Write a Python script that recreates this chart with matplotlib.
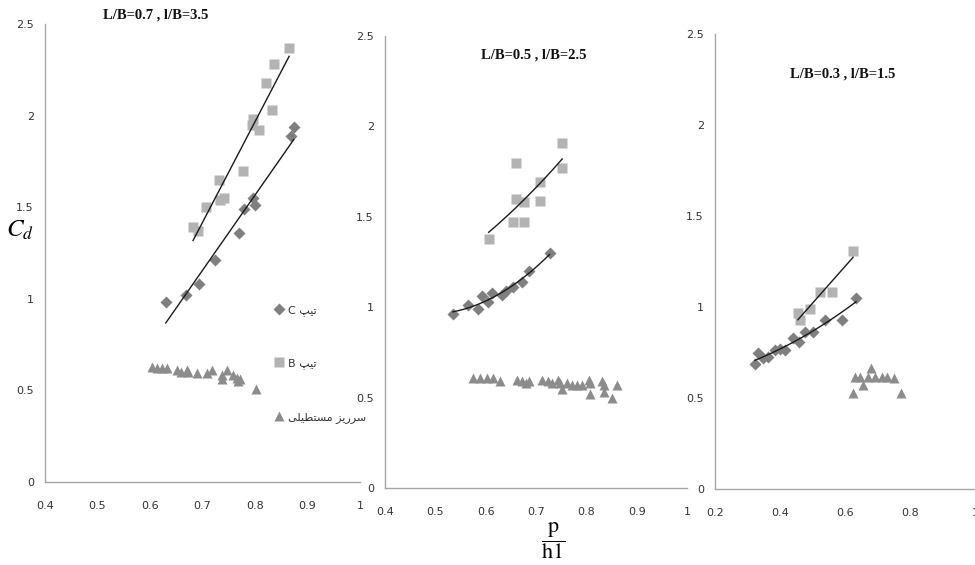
import numpy as np
import matplotlib.pyplot as plt
from matplotlib.ticker import FuncFormatter

# ---- values ----
# panel 1 : L/B=0.7 , l/B=3.5
p1_c_x = [0.630, 0.668, 0.693, 0.724, 0.770, 0.779, 0.796, 0.800, 0.869, 0.874]
p1_c_y = [0.98, 1.02, 1.08, 1.21, 1.36, 1.49, 1.55, 1.51, 1.89, 1.94]
p1_b_x = [0.682, 0.691, 0.707, 0.731, 0.733, 0.741, 0.777, 0.794, 0.796, 0.808,
          0.821, 0.832, 0.836, 0.865]
p1_b_y = [1.39, 1.37, 1.50, 1.65, 1.54, 1.55, 1.70, 1.95, 1.98, 1.92,
          2.18, 2.03, 2.28, 2.37]
p1_w_x = [0.604, 0.613, 0.623, 0.632, 0.651, 0.660, 0.670, 0.672, 0.690, 0.709,
          0.718, 0.737, 0.746, 0.737, 0.758, 0.766, 0.771, 0.768, 0.802]
p1_w_y = [0.63, 0.62, 0.62, 0.62, 0.61, 0.60, 0.61, 0.60, 0.595, 0.595,
          0.61, 0.585, 0.61, 0.56, 0.585, 0.57, 0.56, 0.55, 0.51]

# panel 2 : L/B=0.5 , l/B=2.5
p2_c_x = [0.535, 0.564, 0.584, 0.592, 0.604, 0.612, 0.632, 0.641, 0.654, 0.673,
          0.687, 0.727]
p2_c_y = [0.96, 1.01, 0.99, 1.06, 1.03, 1.08, 1.07, 1.09, 1.11, 1.14, 1.20, 1.30]
p2_b_x = [0.606, 0.655, 0.661, 0.661, 0.677, 0.677, 0.707, 0.707, 0.752, 0.752]
p2_b_y = [1.376, 1.47, 1.80, 1.60, 1.58, 1.47, 1.69, 1.59, 1.91, 1.77]
p2_w_x = [0.574, 0.588, 0.602, 0.614, 0.628, 0.663, 0.673, 0.681, 0.687, 0.711,
          0.723, 0.731, 0.743, 0.747, 0.751, 0.762, 0.772, 0.782, 0.792, 0.806,
          0.808, 0.808, 0.832, 0.836, 0.836, 0.851, 0.861]
p2_w_y = [0.61, 0.61, 0.61, 0.61, 0.59, 0.60, 0.59, 0.58, 0.59, 0.60,
          0.59, 0.58, 0.60, 0.58, 0.55, 0.58, 0.57, 0.57, 0.57, 0.60,
          0.58, 0.52, 0.59, 0.57, 0.53, 0.50, 0.57]

# panel 3 : L/B=0.3 , l/B=1.5
p3_c_x = [0.323, 0.332, 0.348, 0.363, 0.385, 0.400, 0.415, 0.440, 0.458, 0.477,
          0.502, 0.538, 0.591, 0.634]
p3_c_y = [0.687, 0.747, 0.72, 0.725, 0.763, 0.77, 0.763, 0.83, 0.81, 0.86,
          0.86, 0.93, 0.93, 1.05]
p3_b_x = [0.455, 0.460, 0.492, 0.523, 0.560, 0.625]
p3_b_y = [0.967, 0.93, 0.99, 1.08, 1.08, 1.31]
p3_w_x = [0.625, 0.631, 0.645, 0.655, 0.671, 0.680, 0.692, 0.714, 0.729, 0.751, 0.772]
p3_w_y = [0.527, 0.615, 0.615, 0.57, 0.615, 0.665, 0.615, 0.615, 0.615, 0.61, 0.527]

titles = ['L/B=0.7 , l/B=3.5', 'L/B=0.5 , l/B=2.5', 'L/B=0.3 , l/B=1.5']
x_ticks = [[0.4, 0.5, 0.6, 0.7, 0.8, 0.9, 1.0],
           [0.4, 0.5, 0.6, 0.7, 0.8, 0.9, 1.0],
           [0.2, 0.4, 0.6, 0.8, 1.0]]
y_ticks = [0, 0.5, 1, 1.5, 2, 2.5]
# trendline degree per panel (type C, type B)
fit_deg = [(1, 1), (2, 2), (2, 1)]

# legend labels, Persian written in visual order with presentation forms
lab_c = 'C \ufb57\ufbff\ufe97'           # تیپ C
lab_b = 'B \ufb57\ufbff\ufe97'           # تیپ B
lab_w = ('\ufbfd\ufee0\ufbff\ufec4\ufe98\ufeb4\ufee3 '
         '\ufeb0\ufbfe\ufead\ufeae\ufeb3')  # سرریز مستطیلی

panels = [
    (p1_c_x, p1_c_y, p1_b_x, p1_b_y, p1_w_x, p1_w_y),
    (p2_c_x, p2_c_y, p2_b_x, p2_b_y, p2_w_x, p2_w_y),
    (p3_c_x, p3_c_y, p3_b_x, p3_b_y, p3_w_x, p3_w_y),
]

W, H = 975, 565
fig = plt.figure(figsize=(W / 100, H / 100), dpi=100)

# axes boxes in pixels: left, bottom(from top), right, top(from top)
boxes = [(45, 482, 360, 24), (385, 488, 687, 36), (715, 489, 975, 34)]
title_pos = [(0.352, 1.02), (0.493, 0.958), (0.49, 0.912)]

tick_font = ['Liberation Sans Narrow', 'DejaVu Sans']
fmt = FuncFormatter(lambda v, p: '%g' % v)

for i, (cx, cy, bx, by, wx, wy) in enumerate(panels):
    l, b, r, t = boxes[i]
    ax = fig.add_axes([l / W, 1 - b / H, (r - l) / W, (b - t) / H])
    ax.patch.set_alpha(0)

    hw, = ax.plot(wx, wy, '^', color='#8c8c8c', ms=7.5, mec='none', label=lab_w)
    hb, = ax.plot(bx, by, 's', color='#b3b3b3', ms=7.5, mec='none', label=lab_b)
    hc, = ax.plot(cx, cy, 'D', color='#7f7f7f', ms=6.5, mec='none', label=lab_c)

    # Excel-style trendlines fitted to the points
    for xs, ys, d in ((cx, cy, fit_deg[i][0]), (bx, by, fit_deg[i][1])):
        coef = np.polyfit(xs, ys, d)
        xx = np.linspace(min(xs), max(xs), 50)
        ax.plot(xx, np.polyval(coef, xx), color='#1a1a1a', lw=1.0)

    ax.set_xlim(x_ticks[i][0], x_ticks[i][-1])
    ax.set_ylim(0, 2.5)
    ax.set_xticks(x_ticks[i])
    ax.set_yticks(y_ticks)
    ax.xaxis.set_major_formatter(fmt)
    ax.yaxis.set_major_formatter(fmt)
    ax.tick_params(length=0, labelsize=8, colors='#333333')
    ax.tick_params(axis='x', pad=14)
    ax.tick_params(axis='y', pad=8)
    for lbl in ax.get_xticklabels() + ax.get_yticklabels():
        lbl.set_family(tick_font)
    for s in ('top', 'right'):
        ax.spines[s].set_visible(False)
    for s in ('left', 'bottom'):
        ax.spines[s].set_color('#a6a6a6')
        ax.spines[s].set_linewidth(1.0)

    ax.text(title_pos[i][0], title_pos[i][1], titles[i], transform=ax.transAxes,
            ha='center', va='center', fontsize=10.5, fontweight='bold',
            family='Liberation Serif', color='#111111')

    if i == 0:
        leg = ax.legend(handles=[hc, hb, hw], loc='center left',
                        bbox_to_anchor=(0.71, 0.258), frameon=False,
                        labelspacing=3.85, handlelength=0.8, handletextpad=0.4,
                        borderpad=0, prop={'family': 'DejaVu Sans', 'size': 8})
        for txt in leg.get_texts():
            txt.set_color('#333333')

# y label C_d and x label p/h1
plt.rcParams['mathtext.fontset'] = 'stix'
fig.text(20 / W, 1 - 230 / H, r'$C_d$', fontsize=18, ha='center', va='center')
fig.text(553 / W, 1 - 541 / H, r'$\dfrac{\mathrm{p}}{\mathrm{h1}}$', fontsize=16,
         ha='center', va='center')

fig.savefig('out.png', dpi=100)
